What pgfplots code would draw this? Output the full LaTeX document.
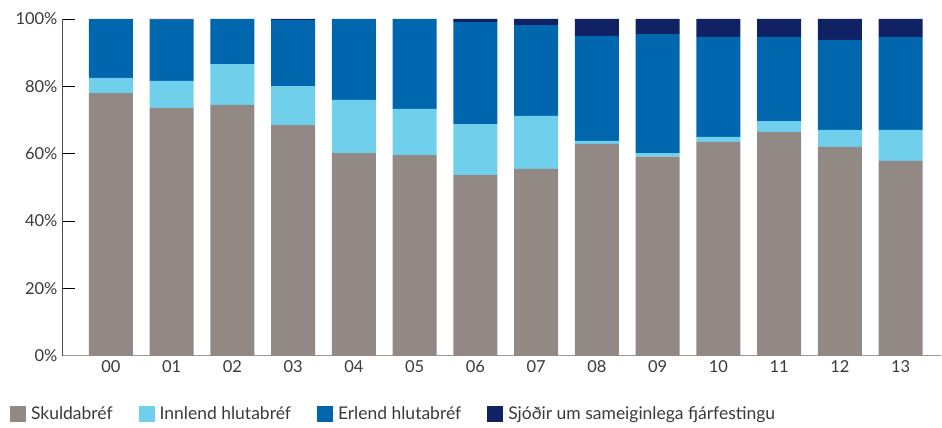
\documentclass[border=0pt]{standalone}
\usepackage{pgfplots}
\pgfplotsset{compat=1.18}
\usepackage{pgfplotstable}
\usepackage{fontspec}
\setmainfont{Lato}
\definecolor{cgray}{RGB}{146,137,132}
\definecolor{clight}{RGB}{112,207,235}
\definecolor{cblue}{RGB}{0,102,173}
\definecolor{cnavy}{RGB}{17,34,100}
\definecolor{ctext}{RGB}{58,58,58}
\pgfplotstableread{
x skuld innlend erlend sjodir
0 78.0 4.5 17.5 0
1 73.6 8.0 18.2 0.2
2 74.5 12.1 13.4 0
3 68.5 11.6 19.6 0.3
4 60.2 15.8 24.0 0
5 59.6 13.7 26.7 0
6 53.7 15.1 30.3 0.9
7 55.5 15.7 27.0 1.8
8 62.9 0.9 31.2 5.0
9 59.1 1.1 35.3 4.5
10 63.5 1.5 29.7 5.3
11 66.5 3.2 25.0 5.3
12 62.0 5.1 26.7 6.2
13 57.9 9.2 27.6 5.3
}\datatable
\begin{document}
\begin{tikzpicture}
\begin{axis}[
  scale only axis,
  width=880pt, height=337pt,
  ybar stacked,
  bar width=44pt,
  xmin=-0.806, xmax=13.67,
  ymin=0, ymax=100,
  axis x line=bottom, axis y line=left,
  x axis line style={-, draw=gray!80, line width=1.2pt},
  y axis line style={-, draw=ctext!90, line width=0.9pt},
  xtick=data,
  xticklabels={00,01,02,03,04,05,06,07,08,09,10,11,12,13},
  major x tick style={draw=none},
  ytick={0,20,40,60,80,100},
  yticklabel={\pgfmathprintnumber{\tick}\%},
  tick align=inside,
  major tick length=13pt,
  major y tick style={draw=black, line width=0.9pt},
  /pgf/number format/assume math mode=true,
  ticklabel style={font=\fontsize{16.5}{18}\selectfont, text=ctext},
  yticklabel style={xshift=-1pt},
  xticklabel style={yshift=-1pt},
  legend columns=4,
  legend style={
    at={(axis description cs:-0.059,-0.172)}, anchor=west,
    draw=none, fill=none, inner sep=0pt, outer sep=0pt,
    font=\fontsize{17.5}{19}\selectfont, text=ctext,
    /tikz/every even column/.append style={column sep=24pt},
  },
  legend image code/.code={\fill[#1] (0pt,-8pt) rectangle (16pt,8pt);\path (0pt,0pt) -- (19pt,0pt);},
  legend cell align=left,
]
\addplot[fill=cgray, draw=none] table[x=x, y=skuld] {\datatable};
\addplot[fill=clight, draw=none] table[x=x, y=innlend] {\datatable};
\addplot[fill=cblue, draw=none] table[x=x, y=erlend] {\datatable};
\addplot[fill=cnavy, draw=none] table[x=x, y=sjodir] {\datatable};
\legend{Skuldabréf, Innlend hlutabréf, Erlend hlutabréf, Sjóðir um sameiginlega fjárfestingu}
\end{axis}
\path[use as bounding box] (-62pt,-72pt) rectangle (880pt,356pt);
\end{tikzpicture}
\end{document}
